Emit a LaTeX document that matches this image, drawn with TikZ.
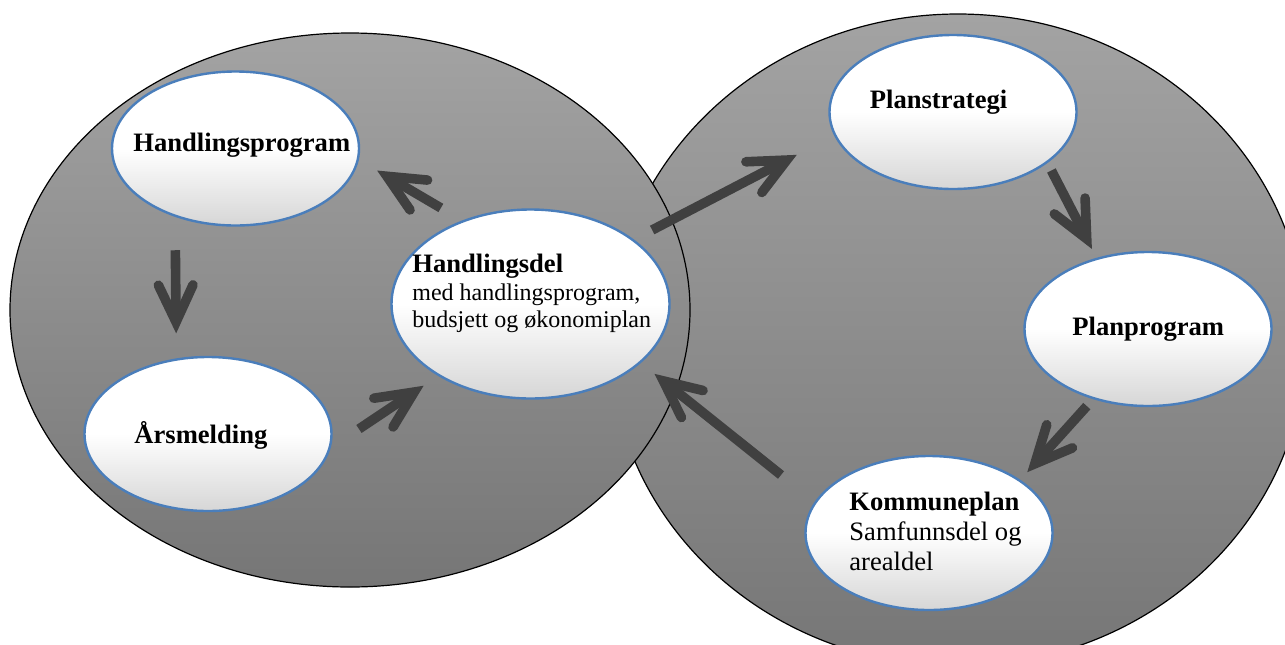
\documentclass[tikz,border=0pt]{standalone}
\usepackage{fontspec}
\setmainfont{Liberation Serif}
\usepackage{xcolor}
\definecolor{colorDiscTop}{HTML}{A3A3A3}
\definecolor{colorDiscBottom}{HTML}{767676}
\definecolor{colorBubbleEdge}{HTML}{4A7EBB}
\definecolor{colorBubbleBottom}{HTML}{D6D6D6}
\definecolor{colorArrow}{HTML}{404040}
\usepackage{tikz}
\usetikzlibrary{arrows.meta, shapes.geometric}
\tikzset{bubbleTitle/.style={font=\fontsize{13.3pt}{15pt}\selectfont\bfseries, inner sep=0pt, anchor=base west}}
\tikzset{bubbleBody/.style={anchor=west, align=left, inner sep=0pt}}

\begin{document}
\begin{tikzpicture}[x=0.5pt, y=-0.5pt,
  disc/.style={draw=black, line width=0.6pt, top color=colorDiscTop, bottom color=colorDiscBottom},
  bubble/.style={ellipse, draw=colorBubbleEdge, line width=1.2pt, top color=white, bottom color=colorBubbleBottom, middle color=white, inner sep=0pt, outer sep=0pt, minimum width=123.5pt, minimum height=77pt},
  flow/.style={draw=colorArrow, line width=4.8pt, -{Straight Barb[length=18.5pt, width=17.3pt, line cap=round, line join=miter]}}]
\useasboundingbox (0,0) rectangle (1285,644);
\path[disc] (958,340) ellipse [x radius=348, y radius=326];
\path[disc] (350,310) ellipse [x radius=340, y radius=277];
\node[bubble] (hprog) at (235.5,148.5) {};
\node[bubble] (aars) at (208,434) {};
\node[bubble, minimum width=139pt, minimum height=94.5pt] (hdel) at (530.5,304) {};
\node[bubble] (strat) at (953,112) {};
\node[bubble] (pprog) at (1148,329) {};
\node[bubble] (kplan) at (929,533) {};
\node[bubbleTitle] (hprogText) at (133,151) {Handlingsprogram};
\node[bubbleTitle] (aarsText) at (134,443.5) {Årsmelding};
\node[bubbleTitle] (stratText) at (869.5,108) {Planstrategi};
\node[bubbleTitle] (pprogText) at (1072,335) {Planprogram};
\node[bubbleBody, font=\fontsize{12pt}{13.65pt}\selectfont] (hdelText) at (412,293.5) {{\fontsize{13.3pt}{13.65pt}\selectfont\bfseries Handlingsdel}\\med handlingsprogram,\\budsjett og økonomiplan};
\node[bubbleBody, font=\fontsize{13.3pt}{15pt}\selectfont] (kplanText) at (849,531) {{\bfseries Kommuneplan}\\Samfunnsdel og\\arealdel};
\draw[flow, shorten <=13.1pt, shorten >=11.2pt] (hdel.129.6) -- (hprog.355.7);
\draw[flow, shorten <=17.3pt, shorten >=13.1pt] (hprog.228.4) -- (aars.113.3);
\draw[flow, shorten <=17.9pt, shorten >=9.4pt] (aars.353.1) -- (hdel.218.3);
\draw[flow, shorten <=10.9pt, shorten >=21.6pt] (hdel.32.05) -- (strat.191.15);
\draw[flow, shorten <=4.8pt, shorten >=5.6pt] (strat.332.43) -- (pprog.126.1);
\draw[flow, shorten <=5.3pt, shorten >=5.7pt] (pprog.232.4) -- (kplan.30.55);
\draw[flow, shorten <=22.1pt, shorten >=9.3pt] (kplan.165.6) -- (hdel.332.1);
\end{tikzpicture}
\end{document}
